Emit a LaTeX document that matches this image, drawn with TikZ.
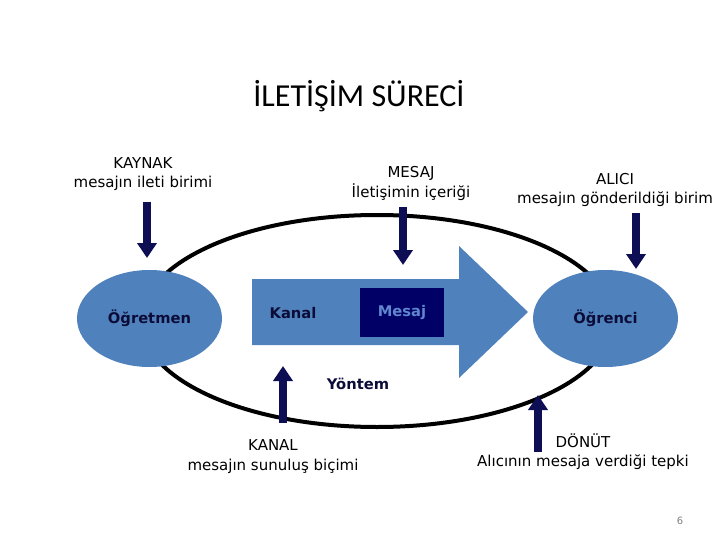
\documentclass[tikz,border=0pt]{standalone}
\usepackage{fontspec}
\setmainfont{DejaVu Sans}
\newfontfamily\titlefont{Carlito}
\usetikzlibrary{arrows.meta,shapes.geometric}
\definecolor{steel}{RGB}{79,129,189}
\definecolor{navy}{RGB}{14,14,84}
\definecolor{inktxt}{RGB}{12,12,56}
\definecolor{boxnavy}{RGB}{0,0,102}
\definecolor{lightmsg}{RGB}{95,135,205}
\tikzset{
  lbl/.style={align=center,inner sep=0pt,font=\fontsize{15}{19.5}\selectfont},
  bold/.style={inner sep=0pt,font=\fontsize{14.7}{17}\selectfont\bfseries},
  oval/.style={ellipse,fill=steel,minimum width=145pt,minimum height=97pt,inner sep=0pt},
  navyarrow/.style={navy,line width=8pt,-{Triangle[width=19pt,length=15pt]}}
}
\begin{document}
\begin{tikzpicture}[x=1pt,y=-1pt]
\useasboundingbox (0,0) rectangle (720,540);
% title
\node[inner sep=0pt,font=\titlefont\fontsize{32}{38}\selectfont] (title) at (359,96) {İLETİŞİM SÜRECİ};
% feedback loop
\draw[line width=4pt] (377,321) ellipse [x radius=236, y radius=106];
% sender and receiver
\node[oval] (ogretmen) at (149.5,318.5) {};
\node[bold,text=inktxt] at (ogretmen.center) {Öğretmen};
\node[oval] (ogrenci) at (605.5,318.5) {};
\node[bold,text=inktxt] at (ogrenci.center) {Öğrenci};
% big channel arrow
\fill[steel] (252,279) -- (459,279) -- (459,246) -- (528,312) -- (459,378) -- (459,345) -- (252,345) -- cycle;
\node[bold,text=inktxt] (kanaltxt) at (293,313) {Kanal};
\node[fill=boxnavy,minimum width=84pt,minimum height=49pt,inner sep=0pt] (mesajbox) at (402,312.5) {};
\node[bold,text=lightmsg] (mesajtxt) at (mesajbox.center) {Mesaj};
\node[bold,text=inktxt] (yontem) at (358,384) {Yöntem};
% labels
\node[lbl] (kaynak) at (143,174) {KAYNAK\\mesajın ileti birimi};
\node[lbl] (mesaj) at (411,183.5) {MESAJ\\İletişimin içeriği};
\node[lbl] (alici) at (615,190) {ALICI\\mesajın gönderildiği birim};
\node[lbl] (kanal) at (273,456.5) {KANAL\\mesajın sunuluş biçimi};
\node[lbl] (donut) at (583,451.5) {DÖNÜT\\Alıcının mesaja verdiği tepki};
\node[inner sep=0pt,text=gray,font=\fontsize{10}{12}\selectfont] (page) at (680,521) {6};
% navy arrows
\coordinate (a1s) at (147,202); \coordinate (a1e) at (147,258);
\coordinate (a2s) at (403,207); \coordinate (a2e) at (403,265);
\coordinate (a3s) at (636,213); \coordinate (a3e) at (636,269);
\coordinate (a4s) at (283,423); \coordinate (a4e) at (283,366);
\coordinate (a5s) at (538,452); \coordinate (a5e) at (538,395);
\draw[navyarrow] (a1s) -- (a1e);
\draw[navyarrow] (a2s) -- (a2e);
\draw[navyarrow] (a3s) -- (a3e);
\draw[navyarrow] (a4s) -- (a4e);
\draw[navyarrow] (a5s) -- (a5e);
\end{tikzpicture}
\end{document}
